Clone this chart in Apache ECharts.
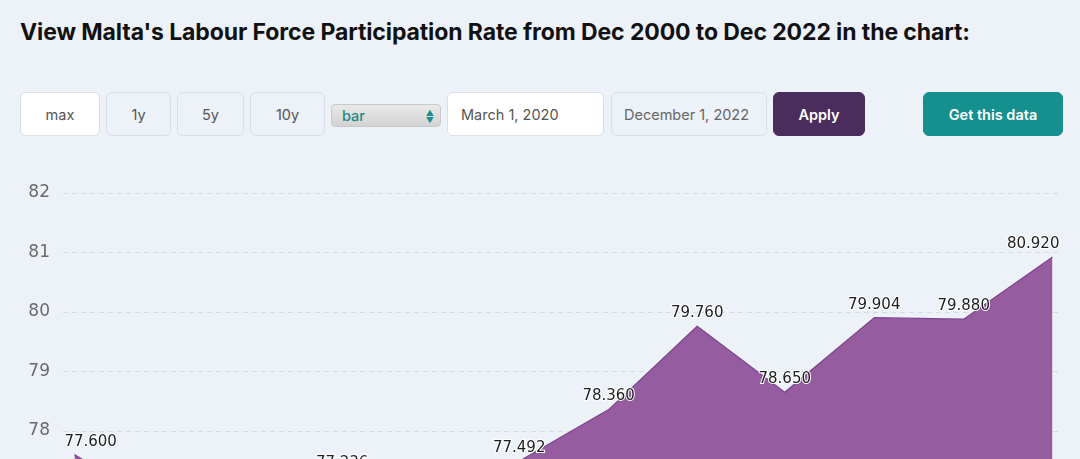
<!DOCTYPE html>
<html>
<head>
<meta charset="utf-8">
<script src="https://cdn.jsdelivr.net/npm/echarts@6/dist/echarts.min.js"></script>
<style>
html,body{margin:0;padding:0;width:1080px;height:459px;overflow:hidden;background:#edf1f8;font-family:Inter,"Noto Sans",sans-serif;}
#title{position:absolute;left:20px;top:18px;font-size:23px;font-weight:700;color:#111;line-height:28px;white-space:nowrap;letter-spacing:-0.1px;}
.btn{position:absolute;top:92px;height:44px;box-sizing:border-box;border:1px solid #dbe0e8;border-radius:6px;font-size:14.5px;color:#555;display:flex;align-items:center;justify-content:center;background:#edf1f8;}
#sel{position:absolute;left:331px;top:104px;width:110px;height:23px;box-sizing:border-box;border-radius:4px;background:linear-gradient(#e9e9e9,#d3d3d3);border:1px solid #c9c9c9;color:#1a8a8a;font-size:14.5px;font-weight:500;line-height:21px;padding-left:10px;}
#sel span{position:absolute;right:6px;top:0;font-size:8px;line-height:8px;color:#1a8a8a;}
#chart{position:absolute;left:0;top:150px;width:1080px;height:480px;}
</style>
</head>
<body>
<div id="title">View Malta's Labour Force Participation Rate from Dec 2000 to Dec 2022 in the chart:</div>
<div class="btn" style="left:20px;width:80px;background:#fff;">max</div>
<div class="btn" style="left:106px;width:65px;">1y</div>
<div class="btn" style="left:177px;width:67px;">5y</div>
<div class="btn" style="left:250px;width:75px;">10y</div>
<div id="sel">bar<span style="top:4px">▲</span><span style="top:11px">▼</span></div>
<div class="btn" style="left:447px;width:157px;background:#fff;justify-content:flex-start;padding-left:13px;color:#555;">March 1, 2020</div>
<div class="btn" style="left:611px;width:156px;justify-content:flex-start;padding-left:12px;color:#666;">December 1, 2022</div>
<div class="btn" style="left:773px;width:92px;background:#4a2c5d;border-color:#4a2c5d;color:#fff;font-weight:600;">Apply</div>
<div class="btn" style="left:923px;width:140px;background:#16908e;border-color:#16908e;color:#fff;font-weight:600;">Get this data</div>
<div id="chart"></div>
<script>
const dates = ['2020-03-01','2020-06-01','2020-09-01','2020-12-01','2021-03-01','2021-06-01','2021-09-01','2021-12-01','2022-03-01','2022-06-01','2022-09-01','2022-12-01'];
const values = [77.600, 76.700, 77.000, 77.236, 76.900, 77.492, 78.360, 79.760, 78.650, 79.904, 79.880, 80.920];
const yTicks = [76, 77, 78, 79, 80, 81, 82];

const chart = echarts.init(document.getElementById('chart'));
const data = dates.map((d, i) => {
  const item = { value: [d, values[i]] };
  if (i === 0) item.label = { offset: [16, 0] };
  if (i === dates.length - 1) item.label = { offset: [-19, 0] };
  return item;
});
chart.setOption({
  backgroundColor: 'transparent',
  animation: false,
  grid: { left: 63, right: 20, top: 43, bottom: 80 },
  xAxis: {
    type: 'time',
    min: '2020-02-18',
    max: '2022-12-09',
    axisLine: { show: false },
    axisTick: { show: false },
    axisLabel: { show: false },
    splitLine: { show: false }
  },
  yAxis: {
    type: 'value',
    min: yTicks[0],
    max: yTicks[yTicks.length - 1],
    interval: 1,
    axisLine: { show: false },
    axisTick: { show: false },
    axisLabel: { fontSize: 17, color: '#6a6a6a', fontFamily: 'DejaVu Sans', margin: 13 },
    splitLine: { lineStyle: { type: [5, 4], color: '#d6dae2', width: 1 } }
  },
  series: [{
    type: 'line',
    data: data,
    symbol: 'circle',
    symbolSize: 1,
    showSymbol: true,
    itemStyle: { color: '#7e4490' },
    lineStyle: { color: '#7e4490', width: 1.2 },
    areaStyle: { color: '#965ca0', opacity: 1 },
    label: {
      show: true,
      position: 'top',
      distance: 5,
      formatter: p => p.value[1].toFixed(3),
      fontFamily: 'DejaVu Sans',
      fontSize: 15,
      color: '#1e1e1e',
      textBorderColor: '#ffffff',
      textBorderWidth: 2
    }
  }]
});
</script>
</body>
</html>
